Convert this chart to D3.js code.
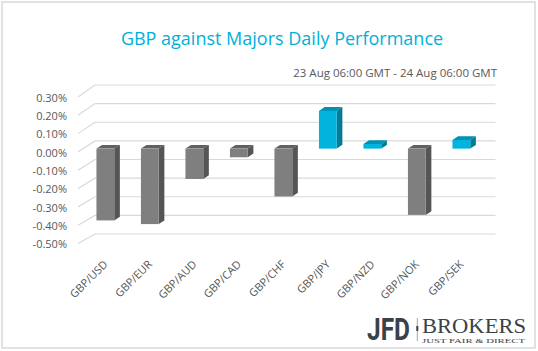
<!DOCTYPE html>
<meta charset="utf-8">
<script src="https://d3js.org/d3.v7.min.js"></script>
<style>
body { margin: 0; background: #fff; }
svg { display: block; font-family: "Open Sans", sans-serif; }
</style>
<div id="chart"></div>
<script>
// data
var pairs = ["GBP/USD", "GBP/EUR", "GBP/AUD", "GBP/CAD", "GBP/CHF", "GBP/JPY", "GBP/NZD", "GBP/NOK", "GBP/SEK"];
var changes = [-0.39, -0.41, -0.165, -0.047, -0.26, 0.205, 0.025, -0.36, 0.047];
var yTicks = [0.3, 0.2, 0.1, 0, -0.1, -0.2, -0.3, -0.4, -0.5];

var W = 538, H = 351;
var svg = d3.select("#chart").append("svg").attr("width", W).attr("height", H);

// outer border
svg.append("rect").attr("x", 2).attr("y", 2).attr("width", 533).attr("height", 346)
  .attr("fill", "none").attr("stroke", "#d9d9d9").attr("stroke-width", 1.5);

// 3d depth of the plot
var depthX = 17, depthY = -12;
var f1 = 0.3, f2 = 0.63;   // bar front / back depth fraction

var x = d3.scaleBand().domain(pairs).range([78, 478.5]).paddingInner(0.6).paddingOuter(0.3);
var yFront = d3.scaleLinear().domain([0.3, -0.5]).range([97, 243.5]);
var yBack = d3.scaleLinear().domain([0.3, -0.5]).range([85, 234]);
function yAt(v, f) { return yFront(v) + f * (yBack(v) - yFront(v)); }

// gridlines (back wall + side wall)
var grid = svg.append("g").attr("stroke", "#d9d9d9").attr("stroke-width", 1.2).attr("fill", "none");
yTicks.forEach(function(t) {
  grid.append("path").attr("d",
    "M78," + yFront(t) + "L" + (78 + depthX) + "," + yBack(t) + "L" + (478.5 + depthX) + "," + yBack(t));
});

// y labels
svg.append("g").selectAll("text").data(yTicks).join("text")
  .attr("x", 67).attr("y", function(d) { return yFront(d) + 1; })
  .attr("dy", "0.35em").attr("text-anchor", "end")
  .attr("font-size", 11).attr("fill", "#595959")
  .text(function(d) { return d.toFixed(2) + "%"; });

// bars
var colors = {
  neg: { front: "#7f7f7f", top: "#616161", side: "#555555" },
  pos: { front: "#00b4de", top: "#0092b4", side: "#007b96" }
};
var bars = svg.append("g");
pairs.forEach(function(p, i) {
  var v = changes[i];
  var c = v < 0 ? colors.neg : colors.pos;
  var x0 = x(p) + f1 * depthX, x1 = x0 + x.bandwidth();
  var dx = (f2 - f1) * depthX;
  var yt = yAt(Math.max(v, 0), f1), yb = yAt(Math.min(v, 0), f1);
  var dy = yAt(Math.max(v, 0), f2) - yt;
  // top face
  bars.append("path").attr("fill", c.top)
    .attr("d", "M" + x0 + "," + yt + "L" + (x0 + dx) + "," + (yt + dy) + "L" + (x1 + dx) + "," + (yt + dy) + "L" + x1 + "," + yt + "Z");
  // side face
  bars.append("path").attr("fill", c.side)
    .attr("d", "M" + x1 + "," + yt + "L" + (x1 + dx) + "," + (yt + dy) + "L" + (x1 + dx) + "," + (yb + dy) + "L" + x1 + "," + yb + "Z");
  // front face
  bars.append("rect").attr("x", x0).attr("y", yt).attr("width", x.bandwidth()).attr("height", yb - yt)
    .attr("fill", c.front);
});

// x labels
svg.append("g").selectAll("text").data(pairs).join("text")
  .attr("transform", function(d) {
    return "translate(" + (x(d) + x.bandwidth() / 2 + f1 * depthX + 3) + ",265) rotate(-45)";
  })
  .attr("text-anchor", "end").attr("font-size", 11).attr("fill", "#595959")
  .text(function(d) { return d; });

// titles
svg.append("text").attr("x", 282).attr("y", 45).attr("text-anchor", "middle")
  .attr("font-size", 18).attr("fill", "#00b0da").text("GBP against Majors Daily Performance");
svg.append("text").attr("x", 497).attr("y", 77).attr("text-anchor", "end")
  .attr("font-size", 11.5).attr("fill", "#595959").text("23 Aug 06:00 GMT - 24 Aug 06:00 GMT");

// logo
var logo = svg.append("g").attr("fill", "#3b4148");
logo.append("text").attr("x", 367).attr("y", 340).attr("font-size", 31).attr("font-weight", 700)
  .attr("font-family", "Roboto, sans-serif")
  .attr("textLength", 43).attr("lengthAdjust", "spacingAndGlyphs").text("JFD");
logo.append("line").attr("x1", 417.3).attr("x2", 417.3).attr("y1", 318).attr("y2", 341)
  .attr("stroke", "#8a8f94").attr("stroke-width", 0.8);
logo.append("rect").attr("x", 416.3).attr("y", 326).attr("width", 2).attr("height", 5).attr("fill", "#3b4148");
logo.append("text").attr("x", 422).attr("y", 333).attr("font-size", 20)
  .attr("font-family", "'Liberation Serif', serif")
  .attr("textLength", 104).attr("lengthAdjust", "spacingAndGlyphs").text("BROKERS");
logo.append("text").attr("x", 422).attr("y", 342.5).attr("font-size", 6.5)
  .attr("font-family", "'Liberation Serif', serif")
  .attr("textLength", 103).attr("lengthAdjust", "spacingAndGlyphs").text("JUST FAIR & DIRECT");
</script>
